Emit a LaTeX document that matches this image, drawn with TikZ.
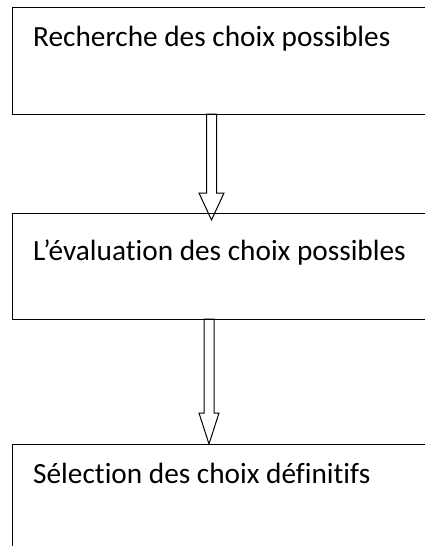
\documentclass[tikz,border=0pt]{standalone}
\usepackage{fontspec}
\setmainfont[Ligatures=NoCommon]{Carlito}
\usetikzlibrary{calc}

% hollow block arrow: start, tip, half shaft, half head, head length
\newcommand{\flecheblanche}[5]{%
  \draw[fleche] ($(#1)+(-#3,0)$) -- ($(#2)+(-#3,-#5)$) -- ($(#2)+(-#4,-#5)$) -- (#2)
    -- ($(#2)+(#4,-#5)$) -- ($(#2)+(#3,-#5)$) -- ($(#1)+(#3,0)$) -- cycle;}

\tikzset{
  etape/.style={draw, line width=1pt, rectangle, inner sep=0pt, anchor=north west,
    minimum width=440pt, minimum height=107pt},
  texte/.style={anchor=base west, inner sep=0pt, font=\fontsize{29.3}{33}\selectfont},
  fleche/.style={draw, line width=1pt, line join=miter}
}

\begin{document}
\begin{tikzpicture}[x=1pt,y=-1pt]
  \useasboundingbox (0,0) rectangle (425,546);
  \clip (0,0) rectangle (425,546);
  % les trois etapes
  \node[etape] (recherche) at (12,7) {};
  \node[etape, minimum height=106pt] (evaluation) at (12,213) {};
  \node[etape] (selection) at (12,444) {};
  \node[texte] (recherchetxt) at (33,46) {Recherche des choix possibles};
  \node[texte] (evaluationtxt) at (33,260) {L’évaluation des choix possibles};
  \node[texte] (selectiontxt) at (33,483) {Sélection des choix définitifs};
  % fleches
  \coordinate (f1a) at (211.5,114);
  \coordinate (f1b) at (211.5,220);
  \coordinate (f2a) at (209,319);
  \coordinate (f2b) at (209,444);
  \flecheblanche{f1a}{f1b}{5}{12.5}{27}
  \flecheblanche{f2a}{f2b}{5}{10}{31}
\end{tikzpicture}
\end{document}
